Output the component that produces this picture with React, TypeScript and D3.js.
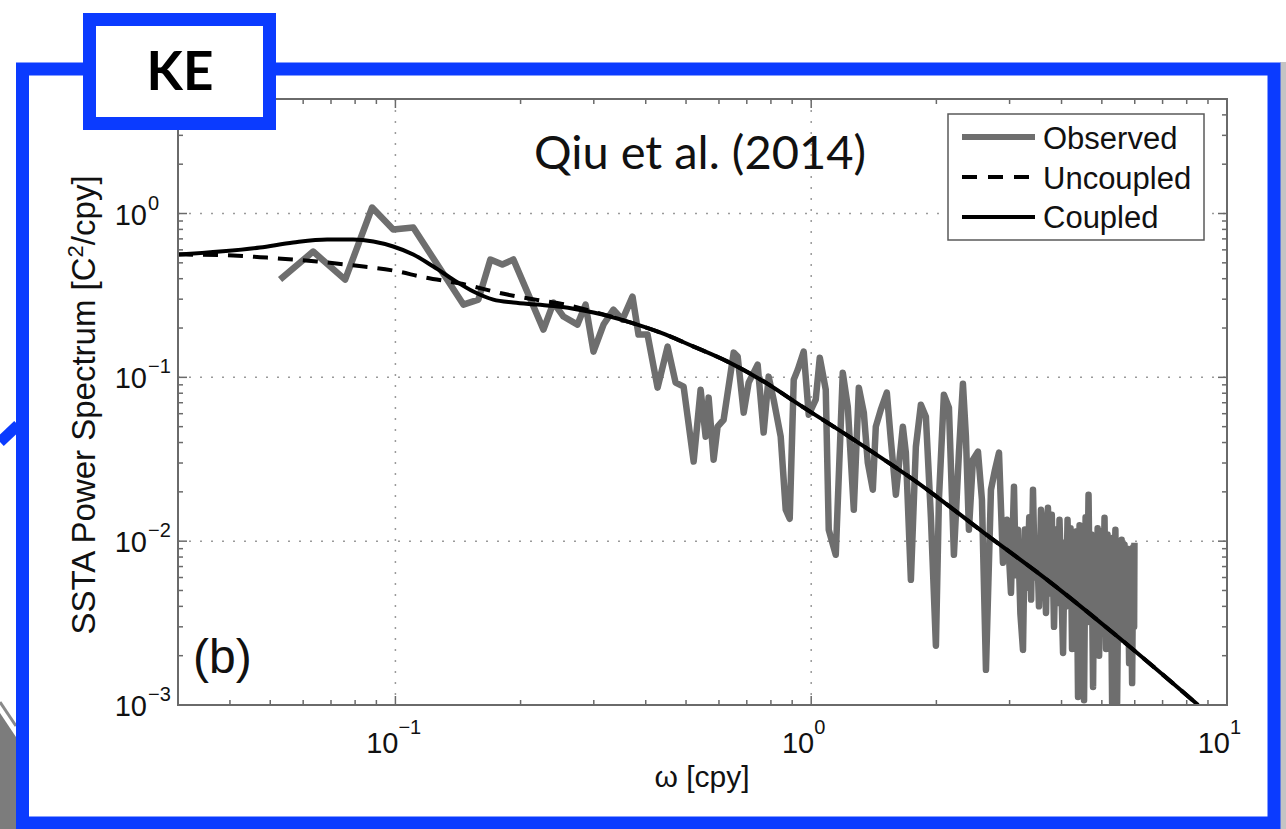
import { useEffect, useRef } from 'react';
import * as d3 from 'd3';

// [frequency (cpy), power (C^2/cpy)]
const observed: [number, number][] = [
  [0.0528, 0.395], [0.0634, 0.586], [0.0757, 0.395], [0.0879, 1.088], [0.0988, 0.798],
  [0.1104, 0.821], [0.1457, 0.278], [0.1583, 0.298], [0.1692, 0.524], [0.1808, 0.488],
  [0.1922, 0.524], [0.227, 0.1956], [0.24, 0.286], [0.2536, 0.235], [0.2741, 0.21],
  [0.2866, 0.278], [0.2995, 0.1435], [0.3166, 0.21], [0.3345, 0.259], [0.3516, 0.2252],
  [0.3717, 0.311], [0.3843, 0.1823], [0.404, 0.1823], [0.4271, 0.0865], [0.4515, 0.154],
  [0.4719, 0.0928], [0.4933, 0.0877], [0.5215, 0.0306], [0.542, 0.0841], [0.5573, 0.0434],
  [0.5666, 0.0752], [0.5825, 0.0314], [0.5955, 0.05], [0.6157, 0.0551], [0.651, 0.1416],
  [0.6655, 0.1338], [0.688, 0.0609], [0.7072, 0.0928], [0.7433, 0.1196], [0.7684, 0.046],
  [0.7901, 0.101], [0.8122, 0.0731], [0.8446, 0.0434], [0.8684, 0.01555], [0.8878, 0.0137],
  [0.9078, 0.0968], [0.9282, 0.1114], [0.9594, 0.1435], [0.9865, 0.0592], [1.0254, 0.0731],
  [1.0486, 0.1319], [1.0839, 0.0841], [1.102, 0.01174], [1.1457, 0.00826], [1.191, 0.1068],
  [1.2246, 0.0662], [1.266, 0.01555], [1.3017, 0.0865], [1.3382, 0.0609], [1.368, 0.0301],
  [1.4066, 0.0206], [1.4301, 0.05], [1.4704, 0.0635], [1.5202, 0.0806], [1.5542, 0.0416],
  [1.5981, 0.0192], [1.6612, 0.05], [1.689, 0.0347], [1.7367, 0.00581], [1.7853, 0.0377],
  [1.8357, 0.0681], [1.8871, 0.0575], [1.9401, 0.0141], [1.9949, 0.0023], [2.0283, 0.0179],
  [2.0851, 0.0784], [2.144, 0.0653], [2.204, 0.00826], [2.2662, 0.0347], [2.3169, 0.0915],
  [2.3556, 0.0434], [2.3951, 0.01174], [2.449, 0.0314], [2.518, 0.0352], [2.574, 0.0179],
  [2.632, 0.00164], [2.706, 0.0206], [2.767, 0.0273], [2.829, 0.0347], [2.892, 0.00738],
  [2.957, 0.0135], [3.023, 0.00484], [3.074, 0.0215], [3.105, 0.0062], [3.142, 0.01174],
  [3.185, 0.0036], [3.231, 0.00217], [3.265, 0.0118], [3.304, 0.0052], [3.345, 0.014],
  [3.38, 0.0044], [3.415, 0.0206], [3.45, 0.006], [3.492, 0.0102], [3.53, 0.004],
  [3.57, 0.01555], [3.62, 0.0112], [3.67, 0.00365], [3.71, 0.016], [3.753, 0.0048],
  [3.79, 0.0145], [3.837, 0.003], [3.88, 0.0118], [3.923, 0.0042], [3.955, 0.0135],
  [3.989, 0.0062], [4.034, 0.00208], [4.07, 0.0098], [4.101, 0.004], [4.135, 0.0135],
  [4.17, 0.005], [4.205, 0.012], [4.24, 0.0022], [4.275, 0.0102], [4.311, 0.0035],
  [4.345, 0.0115], [4.383, 0.00112], [4.42, 0.0125], [4.457, 0.003], [4.495, 0.0105],
  [4.531, 0.00107], [4.57, 0.014], [4.608, 0.004], [4.645, 0.0192], [4.685, 0.0032],
  [4.72, 0.011], [4.763, 0.00129], [4.8, 0.0105], [4.843, 0.0028], [4.885, 0.012],
  [4.925, 0.002], [4.98, 0.0115], [5.035, 0.0035], [5.075, 0.0139], [5.119, 0.0022],
  [5.16, 0.011], [5.204, 0.003], [5.25, 0.0098], [5.293, 0.00103], [5.322, 0.0105],
  [5.352, 0.004], [5.39, 0.01174], [5.441, 0.00103], [5.49, 0.0098], [5.533, 0.0025],
  [5.58, 0.0102], [5.625, 0.003], [5.67, 0.0095], [5.72, 0.0025], [5.77, 0.009],
  [5.816, 0.0018], [5.86, 0.00886], [5.913, 0.00136], [5.95, 0.0092], [5.979, 0.003],
  [5.99, 0.00978],
];

const uncoupled: [number, number][] = [
  [0.03, 0.562], [0.0407, 0.554], [0.0491, 0.538], [0.0648, 0.509], [0.08, 0.481],
  [0.0988, 0.4487], [0.118, 0.4064], [0.1432, 0.3736], [0.1859, 0.32], [0.2172, 0.298],
  [0.2565, 0.278], [0.3113, 0.245], [0.3616, 0.219], [0.4343, 0.1875], [0.5215, 0.154],
  [0.6295, 0.1247], [0.756, 0.0968], [0.9437, 0.0672], [1.245, 0.0428], [1.805, 0.0227],
  [2.603, 0.01125], [3.774, 0.00557], [5.471, 0.0026], [8.524, 0.001],
];

const coupled: [number, number][] = [
  [0.03, 0.562], [0.0472, 0.62], [0.0568, 0.665], [0.0685, 0.694], [0.0791, 0.694],
  [0.0885, 0.675], [0.0988, 0.629], [0.1104, 0.562], [0.1234, 0.4745], [0.1378, 0.395],
  [0.154, 0.334], [0.172, 0.298], [0.1922, 0.286], [0.2196, 0.278], [0.2494, 0.27],
  [0.2995, 0.2485], [0.3616, 0.219], [0.4343, 0.1875], [0.5215, 0.154], [0.6295, 0.1247],
  [0.756, 0.0968], [0.9437, 0.0672], [1.245, 0.0428], [1.805, 0.0227], [2.603, 0.01125],
  [3.774, 0.00557], [5.471, 0.0026], [8.524, 0.001],
];

const xDecades = [-1, 0, 1];
const yDecades = [0, -1, -2, -3];
const xGrid = [0.1, 1];
const yGrid = [1, 0.1, 0.01];
const legendItems = ['Observed', 'Uncoupled', 'Coupled'];

const BLUE = '#0b3bff';
const FONT = '"Liberation Sans", Arial, Helvetica, sans-serif';

export default function App() {
  const svgRef = useRef<SVGSVGElement>(null);

  useEffect(() => {
    if (!svgRef.current) return;
    const svg = d3.select(svgRef.current);
    svg.selectAll('*').remove();

    const left = 178, right = 1227, top = 99, bottom = 705;
    const x = d3.scaleLog().domain([0.03, 10]).range([left, right]);
    const y = d3.scaleLog().domain([1e-3, 5]).range([bottom, top]);

    // --- slide background bits outside the frame ---
    svg.append('line')
      .attr('x1', 0).attr('y1', 442).attr('x2', 18).attr('y2', 425)
      .style('stroke', BLUE).style('stroke-width', 11);
    svg.append('polygon')
      .attr('points', '0,713 16,737 16,829 0,829')
      .style('fill', '#7c7c7c');
    svg.append('line')
      .attr('x1', 0).attr('y1', 702).attr('x2', 16).attr('y2', 726)
      .style('stroke', '#8a8a8a').style('stroke-width', 3);
    svg.append('rect')
      .attr('x', 1280).attr('y', 62).attr('width', 6).attr('height', 767)
      .style('fill', '#c4c4c4');

    // --- main frame ---
    svg.append('rect')
      .attr('x', 22.5).attr('y', 69).attr('width', 1251.5).attr('height', 754)
      .style('fill', '#fff').style('stroke', BLUE).style('stroke-width', 13);

    svg.append('defs').append('clipPath').attr('id', 'plotClip')
      .append('rect').attr('x', left).attr('y', top)
      .attr('width', right - left).attr('height', bottom - top);

    // grid
    const grid = svg.append('g')
      .style('stroke', '#9a9a9a').style('stroke-width', 1.5).style('stroke-dasharray', '2,9');
    xGrid.forEach(v => {
      grid.append('line').attr('x1', x(v)).attr('x2', x(v)).attr('y1', top).attr('y2', bottom);
    });
    yGrid.forEach(v => {
      grid.append('line').attr('x1', left).attr('x2', right).attr('y1', y(v)).attr('y2', y(v));
    });

    // ticks
    const isMajor = (v: number) => Math.abs(Math.log10(v) - Math.round(Math.log10(v))) < 1e-6;
    const ticks = svg.append('g').style('stroke', '#6a6a6a').style('stroke-width', 1.5);
    x.ticks().forEach(v => {
      const len = isMajor(v) ? 9 : 5;
      const px = x(v);
      ticks.append('line').attr('x1', px).attr('x2', px).attr('y1', bottom).attr('y2', bottom - len);
      ticks.append('line').attr('x1', px).attr('x2', px).attr('y1', top).attr('y2', top + len);
    });
    y.ticks().forEach(v => {
      const len = isMajor(v) ? 9 : 5;
      const py = y(v);
      ticks.append('line').attr('x1', left).attr('x2', left + len).attr('y1', py).attr('y2', py);
      ticks.append('line').attr('x1', right).attr('x2', right - len).attr('y1', py).attr('y2', py);
    });

    // series
    const line = d3.line<[number, number]>().x(d => x(d[0])).y(d => y(d[1]));
    const smooth = d3.line<[number, number]>().x(d => x(d[0])).y(d => y(d[1])).curve(d3.curveMonotoneX);
    const plot = svg.append('g').attr('clip-path', 'url(#plotClip)');

    plot.append('path').datum(observed)
      .attr('d', line)
      .style('fill', 'none').style('stroke', '#6e6e6e').style('stroke-width', 6.5)
      .style('stroke-linejoin', 'round');

    plot.append('path').datum(uncoupled)
      .attr('d', smooth)
      .style('fill', 'none').style('stroke', '#000').style('stroke-width', 4)
      .style('stroke-dasharray', '15,10');

    plot.append('path').datum(coupled)
      .attr('d', smooth)
      .style('fill', 'none').style('stroke', '#000').style('stroke-width', 4);

    // axis box
    svg.append('rect')
      .attr('x', left).attr('y', top).attr('width', right - left).attr('height', bottom - top)
      .style('fill', 'none').style('stroke', '#6a6a6a').style('stroke-width', 2);

    // tick labels
    const lab = svg.append('g').style('font-family', FONT).style('fill', '#111');
    yDecades.forEach(e => {
      const py = y(Math.pow(10, e));
      lab.append('text').attr('x', 147).attr('y', py + 11)
        .attr('text-anchor', 'end').style('font-size', '29px').text('10');
      lab.append('text').attr('x', 148).attr('y', py - 4)
        .style('font-size', '20px').text(String(e).replace('-', '\u2212'));
    });
    xDecades.forEach(e => {
      const px = x(Math.pow(10, e));
      lab.append('text').attr('x', px + 3).attr('y', 753)
        .attr('text-anchor', 'end').style('font-size', '29px').text('10');
      lab.append('text').attr('x', px + 3).attr('y', 734)
        .style('font-size', '20px').text(String(e).replace('-', '\u2212'));
    });

    // axis titles
    lab.append('text').attr('x', 702).attr('y', 787).attr('text-anchor', 'middle')
      .style('font-size', '30px').text('\u03c9 [cpy]');
    const yl = lab.append('text')
      .attr('transform', 'translate(95,405) rotate(-90)')
      .attr('text-anchor', 'middle').style('font-size', '33px');
    yl.append('tspan').text('SSTA Power Spectrum [C');
    yl.append('tspan').attr('dy', -12).style('font-size', '22px').text('2');
    yl.append('tspan').attr('dy', 12).text('/cpy]');

    lab.append('text').attr('x', 193).attr('y', 673).style('font-size', '48px').text('(b)');

    // legend
    const lg = svg.append('g');
    lg.append('rect').attr('x', 948).attr('y', 114).attr('width', 256).attr('height', 126)
      .style('fill', '#fff').style('stroke', '#5a5a5a').style('stroke-width', 1.5);
    const rowY = [137, 177, 217];
    const baseY = [149, 189, 228];
    legendItems.forEach((name, i) => {
      const l = lg.append('line').attr('x1', 962).attr('x2', 1035).attr('y1', rowY[i]).attr('y2', rowY[i]);
      if (i === 0) l.style('stroke', '#6e6e6e').style('stroke-width', 6);
      else if (i === 1) l.style('stroke', '#000').style('stroke-width', 4).style('stroke-dasharray', '15,11');
      else l.style('stroke', '#000').style('stroke-width', 4);
      lg.append('text').attr('x', 1043).attr('y', baseY[i])
        .style('font-family', FONT).style('font-size', '31px').style('fill', '#111').text(name);
    });

    // slide title
    svg.append('text').attr('x', 700).attr('y', 169).attr('text-anchor', 'middle')
      .style('font-family', 'Lato, "Open Sans", sans-serif').style('font-size', '47px')
      .style('fill', '#111').text('Qiu et al. (2014)');

    // KE box
    svg.append('rect')
      .attr('x', 89.5).attr('y', 19.5).attr('width', 180).attr('height', 104)
      .style('fill', '#fff').style('stroke', BLUE).style('stroke-width', 13);
    svg.append('text').attr('x', 180).attr('y', 90).attr('text-anchor', 'middle')
      .style('font-family', 'Lato, "Open Sans", sans-serif').style('font-weight', 700)
      .style('font-size', '53px').style('fill', '#000').text('KE');
  }, []);

  return (
    <div style={{ position: 'fixed', left: 0, top: 0, width: 1286, height: 829, background: '#fff' }}>
      <svg ref={svgRef} width={1286} height={829} style={{ display: 'block' }} />
    </div>
  );
}
